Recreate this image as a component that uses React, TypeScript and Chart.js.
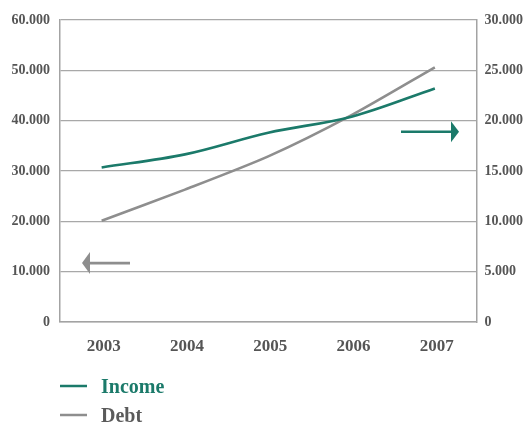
import React, { useEffect, useRef } from "react";
import { Chart, registerables, Plugin } from "chart.js";

Chart.register(...registerables);

// Years on the horizontal axis
const years = ["2003", "2004", "2005", "2006", "2007"];
// Income, read against the right-hand axis
const income = [15350, 16650, 18800, 20400, 23200];
// Debt, read against the left-hand axis
const debt = [20100, 26300, 32900, 41100, 50600];
// Axis ranges and steps
const leftTicks = { min: 0, max: 60000, step: 10000 };
const rightTicks = { min: 0, max: 30000, step: 5000 };

const GREEN = "#1b7a6a";
const GREY = "#8e8e8e";
const TEXT = "#555555";
const SERIF = "'Liberation Serif', 'Times New Roman', serif";

const fmt = (v: number) =>
  String(Math.round(v)).replace(/\B(?=(\d{3})+(?!\d))/g, ".");

// Arrows telling which axis each line belongs to
const axisArrows: Plugin = {
  id: "axisArrows",
  afterDatasetsDraw(chart) {
    const { ctx, chartArea, scales } = chart;
    const draw = (
      tipX: number,
      tailX: number,
      y: number,
      head: number,
      half: number,
      color: string,
      width: number
    ) => {
      const dir = Math.sign(tipX - tailX);
      ctx.save();
      ctx.strokeStyle = color;
      ctx.fillStyle = color;
      ctx.lineWidth = width;
      ctx.beginPath();
      ctx.moveTo(tailX, y);
      ctx.lineTo(tipX - dir * head, y);
      ctx.stroke();
      ctx.beginPath();
      ctx.moveTo(tipX, y);
      ctx.lineTo(tipX - dir * head, y - half);
      ctx.lineTo(tipX - dir * head, y + half);
      ctx.closePath();
      ctx.fill();
      ctx.restore();
    };
    const yr = scales.yRight.getPixelForValue(18900);
    draw(chartArea.right - 17.5, chartArea.right - 75.5, yr, 8, 10.5, GREEN, 2.6);
    const yl = scales.yLeft.getPixelForValue(11700);
    draw(chartArea.left + 22, chartArea.left + 70, yl, 8, 11, GREY, 2.6);
  },
};

// Vertical legend below the plot
const stackedLegend: Plugin = {
  id: "stackedLegend",
  afterDraw(chart) {
    const { ctx, chartArea } = chart;
    const colors = [GREEN, "#5a5a5a"];
    chart.data.datasets.forEach((ds, i) => {
      const baseline = chartArea.bottom + 71 + i * 29;
      const lineY = baseline - 7;
      ctx.save();
      ctx.strokeStyle = ds.borderColor as string;
      ctx.lineWidth = 2.5;
      ctx.beginPath();
      ctx.moveTo(chartArea.left, lineY);
      ctx.lineTo(chartArea.left + 27, lineY);
      ctx.stroke();
      ctx.fillStyle = colors[i];
      ctx.font = `bold 20px ${SERIF}`;
      ctx.textBaseline = "alphabetic";
      ctx.textAlign = "left";
      ctx.fillText(String(ds.label), chartArea.left + 41, baseline);
      ctx.restore();
    });
  },
};

export default function App() {
  const ref = useRef<HTMLCanvasElement>(null);

  useEffect(() => {
    if (!ref.current) return;
    const chart = new Chart(ref.current, {
      type: "line",
      data: {
        labels: years,
        datasets: [
          {
            label: "Income",
            data: income,
            yAxisID: "yRight",
            borderColor: GREEN,
            backgroundColor: GREEN,
            borderWidth: 2.6,
            pointRadius: 0,
            tension: 0.35,
          },
          {
            label: "Debt",
            data: debt,
            yAxisID: "yLeft",
            borderColor: GREY,
            backgroundColor: GREY,
            borderWidth: 2.6,
            pointRadius: 0,
            tension: 0.25,
          },
        ],
      },
      options: {
        responsive: false,
        animation: false,
        layout: { padding: { top: 20, bottom: 56, left: 0, right: 0 } },
        plugins: { legend: { display: false }, tooltip: { enabled: false } },
        scales: {
          x: {
            type: "category",
            offset: true,
            grid: { display: false, drawTicks: false },
            border: { display: true, color: "#a3a3a3", width: 1.5 },
            ticks: {
              color: TEXT,
              padding: 14,
              labelOffset: 2,
              font: { family: SERIF, size: 17, weight: "bold" },
            },
            afterFit(scale) {
              scale.height = 45;
            },
          },
          yLeft: {
            type: "linear",
            position: "left",
            min: leftTicks.min,
            max: leftTicks.max,
            grid: { color: "#a8a8a8", lineWidth: 1.2, drawTicks: false },
            border: { display: true, color: "#a3a3a3", width: 1.5 },
            ticks: {
              stepSize: leftTicks.step,
              color: TEXT,
              padding: 10,
              font: { family: SERIF, size: 14, weight: "bold" },
              callback: (v) => fmt(Number(v)),
            },
            afterFit(scale) {
              scale.width = 60;
            },
          },
          yRight: {
            type: "linear",
            position: "right",
            min: rightTicks.min,
            max: rightTicks.max,
            grid: { display: false, drawTicks: false },
            border: { display: true, color: "#a3a3a3", width: 1.5 },
            ticks: {
              stepSize: rightTicks.step,
              color: TEXT,
              padding: 8,
              font: { family: SERIF, size: 14, weight: "bold" },
              callback: (v) => fmt(Number(v)),
            },
            afterFit(scale) {
              scale.width = 50.5;
            },
          },
        },
      },
      plugins: [axisArrows, stackedLegend],
    });
    return () => chart.destroy();
  }, []);

  return (
    <div style={{ position: "fixed", left: 0, top: 0, width: 527, height: 423, background: "#fff" }}>
      <canvas ref={ref} width={527} height={423} />
    </div>
  );
}
